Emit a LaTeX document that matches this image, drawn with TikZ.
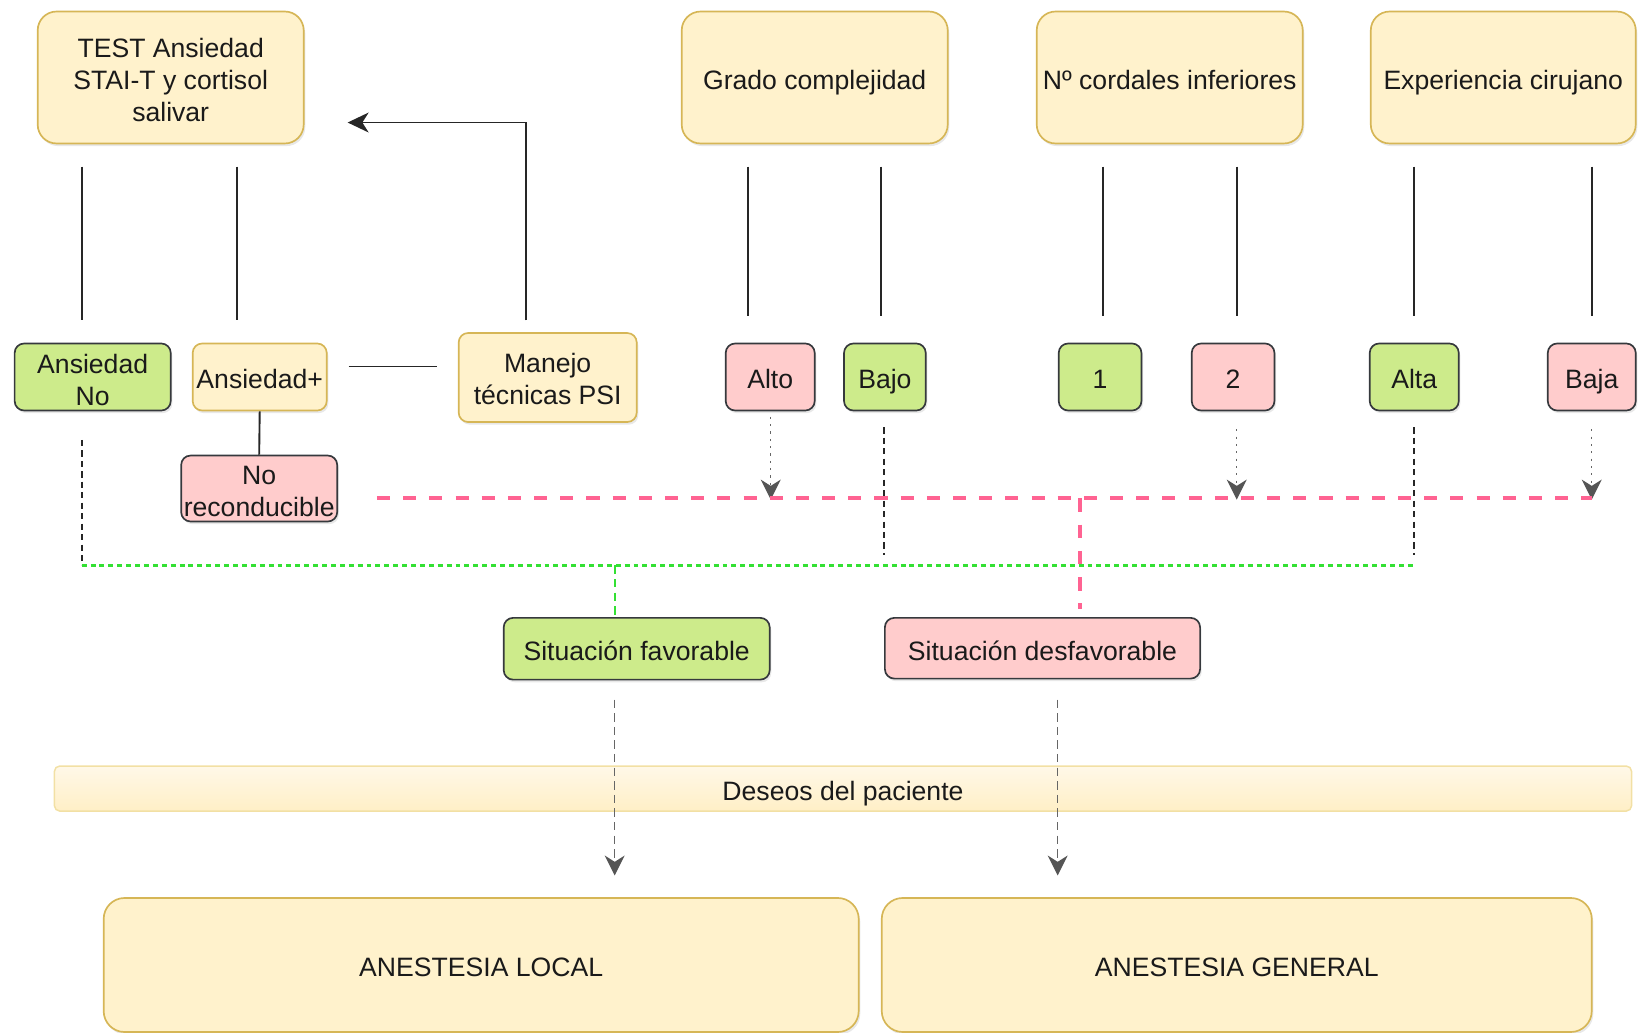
\documentclass[tikz,border=0pt]{standalone}
\usepackage{fontspec}
\setmainfont{Liberation Sans}
\usetikzlibrary{arrows.meta,shadows,calc}
\definecolor{yfill}{HTML}{FFF2CC}
\definecolor{ydraw}{HTML}{D6B656}
\definecolor{gfill}{HTML}{CDEB8B}
\definecolor{pfill}{HTML}{FFCCCC}
\definecolor{bdraw}{HTML}{36393D}
\definecolor{pinkl}{HTML}{FF6392}
\definecolor{greenl}{HTML}{33E033}
\definecolor{grayl}{HTML}{666666}
\definecolor{grayt}{HTML}{555555}
\definecolor{txt}{HTML}{1A1A1A}
\definecolor{bandtop}{HTML}{FFF8E8}
\definecolor{bandbot}{HTML}{FFEFC6}
\definecolor{banddraw}{HTML}{F2E0A4}
\newcommand\myTopStrut[1]{\rule{0pt}{#1}}
\begin{document}
\begin{tikzpicture}[x=1pt,y=-1pt,
  every node/.style={font=\fontsize{25.4}{30.5}\selectfont, text=txt, inner sep=0pt, align=center},
  sl/.style={text height=27pt, text depth=4.5pt},
  rbox/.style={draw, rounded corners=#1, line width=1.6pt,
    drop shadow={shadow xshift=1.5pt, shadow yshift=-2.5pt, opacity=0.18}},
  ybig/.style={rbox=18pt, fill=yfill, draw=ydraw, minimum width=254pt, minimum height=126pt},
  ysmall/.style={rbox=9pt, fill=yfill, draw=ydraw},
  gsmall/.style={rbox=9pt, fill=gfill, draw=bdraw},
  psmall/.style={rbox=9pt, fill=pfill, draw=bdraw},
  solidl/.style={draw=black!85, line width=1.8pt},
  blackdash/.style={draw=black!85, line width=2pt, dash pattern=on 6pt off 4pt},
  greendot/.style={draw=greenl, line width=2.8pt, dash pattern=on 4.7pt off 3.8pt},
  greendash/.style={draw=greenl, line width=1.6pt, dash pattern=on 8pt off 5pt},
  pinkdash/.style={draw=pinkl, line width=3.8pt, dash pattern=on 12.5pt off 12.5pt},
  pinkvdash/.style={draw=pinkl, line width=3.8pt, dash pattern=on 13pt off 12pt},
  gtip/.style={-{Stealth[length=19pt,width=19pt,inset=6pt,fill=grayt,color=grayt]}},
  graydot/.style={draw=grayl, line width=1.2pt, dash pattern=on 2pt off 5pt, gtip},
  graydash/.style={draw=grayl, line width=1.4pt, dash pattern=on 8pt off 5pt, gtip}
]
\useasboundingbox (0,0) rectangle (1568,985.5);

% top boxes
\node[ybig] (test) at (163,74) {\myTopStrut{23.5pt}TEST Ansiedad\\STAI-T y cortisol\\salivar};
\node[ybig, sl] (grado) at (778,74) {Grado complejidad};
\node[ybig, sl] (cord) at (1117,74) {Nº cordales inferiores};
\node[ybig, sl, minimum width=253pt] (exp) at (1435.5,74) {Experiencia cirujano};

% second row
\node[gsmall, minimum width=149pt, minimum height=64pt] (ansno) at (88.5,360) {\myTopStrut{23.5pt}Ansiedad\\No};
\node[ysmall, sl, minimum width=128pt, minimum height=64pt] (ansplus) at (248,360) {Ansiedad+};
\node[ysmall, minimum width=170pt, minimum height=85pt] (manejo) at (523,360.5) {\myTopStrut{21.5pt}Manejo\\técnicas PSI};
\node[psmall, minimum width=149pt, minimum height=63pt] (norec) at (247.5,466.5) {\myTopStrut{23.5pt}No\\reconducible};
\node[psmall, sl, minimum width=85pt, minimum height=64pt] (alto) at (735.5,360) {Alto};
\node[gsmall, sl, minimum width=78pt, minimum height=64pt] (bajo) at (845,360) {Bajo};
\node[gsmall, sl, minimum width=79pt, minimum height=64pt] (one) at (1050.5,360) {1};
\node[psmall, sl, minimum width=79pt, minimum height=64pt] (two) at (1177.5,360) {2};
\node[gsmall, sl, minimum width=85pt, minimum height=64pt] (alta) at (1350.5,360) {Alta};
\node[psmall, sl, minimum width=84pt, minimum height=64pt] (baja) at (1520,360) {Baja};

% situations
\node[gsmall, sl, minimum width=254pt, minimum height=59pt] (sfav) at (608,619.5) {Situación favorable};
\node[psmall, sl, minimum width=301pt, minimum height=58pt] (sdes) at (995.5,619) {Situación desfavorable};

% band
\node[draw=banddraw, sl, line width=1.4pt, rounded corners=5pt, top color=bandtop, bottom color=bandbot,
  minimum width=1506pt, minimum height=43pt] (deseos) at (805,753) {Deseos del paciente};

% bottom boxes
\node[rbox=20pt, sl, fill=yfill, draw=ydraw, minimum width=721pt, minimum height=128pt] (local) at (459.5,921.5) {ANESTESIA LOCAL};
\node[rbox=20pt, sl, fill=yfill, draw=ydraw, minimum width=678pt, minimum height=128pt] (general) at (1181,921.5) {ANESTESIA GENERAL};

% free vertical lines from top boxes
\foreach \i/\x/\b in {1/78/306, 2/226/306, 3/714/302, 4/841/302, 5/1053/302, 6/1181/302, 7/1350/302, 8/1520/302}{
  \coordinate (vt\i) at (\x,159);
  \coordinate (vb\i) at (\x,\b);
  \draw[solidl] (vt\i) -- (vb\i);
}

% Manejo feedback arrow
\coordinate (m0) at (502,306);
\coordinate (m1) at (502,117);
\coordinate (m2) at (332,117);
\draw[solidl, -{Stealth[length=20pt,width=19pt,inset=6pt]}] (m0) -- (m1) -- (m2);

% Ansiedad+ -- Manejo
\coordinate (h0) at (333,350);
\coordinate (h1) at (417,350);
\draw[solidl] (h0) -- (h1);
\draw[solidl] (ansplus.south) -- (norec.north);

% black dashed drops
\coordinate (d1a) at (78,420);  \coordinate (d1b) at (78,540);
\coordinate (d2a) at (844,408); \coordinate (d2b) at (844,530);
\coordinate (d3a) at (1350,408); \coordinate (d3b) at (1350,530);
\draw[blackdash] (d1a) -- (d1b);
\draw[blackdash] (d2a) -- (d2b);
\draw[blackdash] (d3a) -- (d3b);

% green collector
\coordinate (g0) at (78,540);
\coordinate (g1) at (1350,540);
\coordinate (g2) at (587,540);
\draw[greendot] (g0) -- (g1);
\draw[greendash] (g2) -- (g2 |- sfav.north);

% gray dotted arrows into pink line
\coordinate (a1) at (736,398);  \coordinate (a1e) at (736,477);
\coordinate (a2) at (1181,410); \coordinate (a2e) at (1181,477);
\coordinate (a3) at (1520,410); \coordinate (a3e) at (1520,477);
\draw[graydot] (a1) -- (a1e);
\draw[graydot] (a2) -- (a2e);
\draw[graydot] (a3) -- (a3e);

% pink collector
\coordinate (p0) at (360,476);
\coordinate (p1) at (1520,476);
\coordinate (p2) at (1031,476);
\coordinate (p3) at (1031,582);
\draw[pinkdash] (p0) -- (p1);
\draw[pinkvdash] (p2) -- (p3);

% to anesthesia
\coordinate (f0) at (587,668);  \coordinate (f1) at (587,836);
\coordinate (u0) at (1010,668); \coordinate (u1) at (1010,836);
\draw[graydash] (f0) -- (f1);
\draw[graydash] (u0) -- (u1);
\end{tikzpicture}
\end{document}
